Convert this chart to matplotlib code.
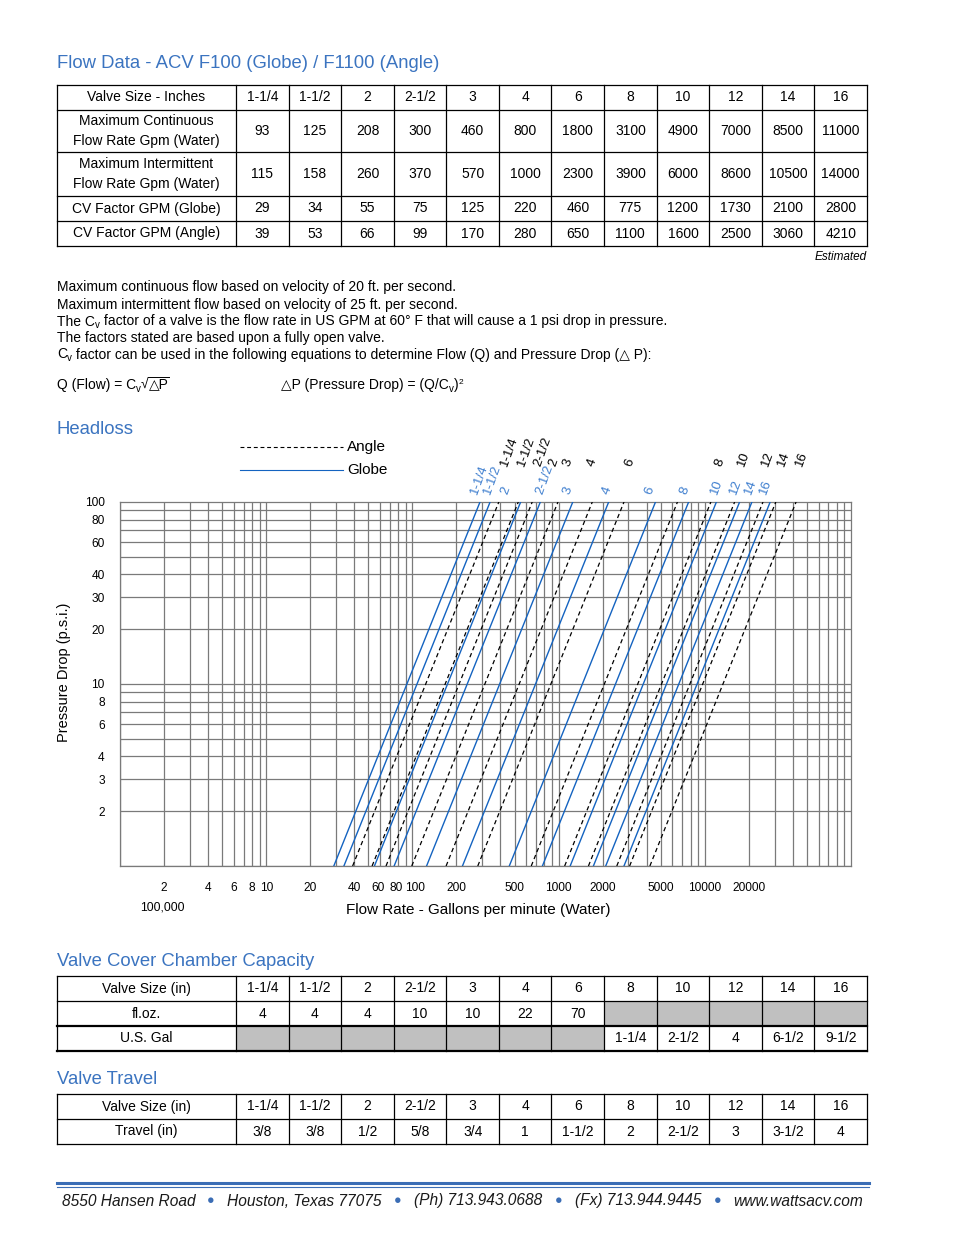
#----Modules----#
import numpy as np
import matplotlib
matplotlib.use('Agg')
import matplotlib.pyplot as plt
import matplotlib.transforms as mtransforms
from matplotlib.lines import Line2D
from matplotlib.patches import Rectangle

plt.rcParams['font.family'] = ['Liberation Sans', 'DejaVu Sans']

#----Data----#
sizes = ["1-1/4", "1-1/2", "2", "2-1/2", "3", "4", "6", "8", "10", "12", "14", "16"]
max_continuous = [93, 125, 208, 300, 460, 800, 1800, 3100, 4900, 7000, 8500, 11000]
max_intermittent = [115, 158, 260, 370, 570, 1000, 2300, 3900, 6000, 8600, 10500, 14000]
cv_globe = [29, 34, 55, 75, 125, 220, 460, 775, 1200, 1730, 2100, 2800]
cv_angle = [39, 53, 66, 99, 170, 280, 650, 1100, 1600, 2500, 3060, 4210]
cover_floz = ["4", "4", "4", "10", "10", "22", "70", "", "", "", "", ""]
cover_gal = ["", "", "", "", "", "", "", "1-1/4", "2-1/2", "4", "6-1/2", "9-1/2"]
travel = ["3/8", "3/8", "1/2", "5/8", "3/4", "1", "1-1/2", "2", "2-1/2", "3", "3-1/2", "4"]

pressure_ticks = [2, 3, 4, 6, 8, 10, 20, 30, 40, 60, 80, 100]
flow_ticks = [2, 4, 6, 8, 10, 20, 40, 60, 80, 100, 200, 500, 1000, 2000, 5000, 10000, 20000]

notes = ["Maximum continuous flow based on velocity of 20 ft. per second.",
         "Maximum intermittent flow based on velocity of 25 ft. per second."]

#----Style----#
TITLE_BLUE = '#3b74c0'
LINE_BLUE = '#1463c0'
LABEL_BLUE = '#3f7fcf'
GRID = '#7a7a7a'
W, H = 954, 1235

fig = plt.figure(figsize=(W / 100, H / 100), dpi=100)
renderer = fig.canvas.get_renderer()


def fx(x):
    return x / W


def fy(y):
    return 1 - y / H


def text(x, y, s, **kw):
    return fig.text(fx(x), fy(y), s, **kw)


def line(x0, x1, y0, y1, **kw):
    kw.setdefault('color', 'black')
    kw.setdefault('lw', 0.8)
    fig.add_artist(Line2D([fx(x0), fx(x1)], [fy(y0), fy(y1)], **kw))


def run(x, y, pieces, size=10, **kw):
    # pieces of text placed one after another on a baseline: (text, dy, scale)
    for s, dy, sc in pieces:
        t = text(x, y + dy, s, fontsize=size * sc, va='baseline', **kw)
        x += t.get_window_extent(renderer).width
    return x


col_edges = [57, 236] + list(np.linspace(236, 867, 13)[1:])


def draw_table(rows_y, cells, shaded=(), thick_rows=()):
    for r, c in shaded:
        x0, x1 = col_edges[c], col_edges[c + 1]
        fig.add_artist(Rectangle((fx(x0), fy(rows_y[r + 1])), fx(x1) - fx(x0),
                                 fy(rows_y[r]) - fy(rows_y[r + 1]),
                                 facecolor='#c0c0c0', edgecolor='none'))
    for i, y in enumerate(rows_y):
        line(col_edges[0], col_edges[-1], y, y, lw=1.6 if i in thick_rows else 0.9)
    for x in col_edges:
        line(x, x, rows_y[0], rows_y[-1], lw=0.9)
    for r, row in enumerate(cells):
        yc = (rows_y[r] + rows_y[r + 1]) / 2
        for c, s in enumerate(row):
            xc = (col_edges[c] + col_edges[c + 1]) / 2
            text(xc, yc, s, ha='center', va='center', fontsize=10, linespacing=1.55)


#----Flow data table----#
text(57, 63, "Flow Data - ACV F100 (Globe) / F1100 (Angle)", fontsize=13.3,
     color=TITLE_BLUE, va='center')
flow_cells = [
    ["Valve Size - Inches"] + sizes,
    ["Maximum Continuous\nFlow Rate Gpm (Water)"] + [str(v) for v in max_continuous],
    ["Maximum Intermittent\nFlow Rate Gpm (Water)"] + [str(v) for v in max_intermittent],
    ["CV Factor GPM (Globe)"] + [str(v) for v in cv_globe],
    ["CV Factor GPM (Angle)"] + [str(v) for v in cv_angle],
]
draw_table([84.5, 109.5, 152, 196, 221, 246], flow_cells)
text(867, 257, "Estimated", ha='right', va='center', fontsize=8.5, style='italic')

#----Notes----#
for i, s in enumerate(notes):
    text(57, 291.5 + i * 17, s, fontsize=10, va='baseline')
run(57, 325.5, [("The C", 0, 1), ("v", 3, 0.7),
                (" factor of a valve is the flow rate in US GPM at 60° F that will cause a 1 psi drop in pressure.", 0, 1)])
text(57, 342, "The factors stated are based upon a fully open valve.", fontsize=10, va='baseline')
run(57, 358.5, [("C", 0, 1), ("v", 3, 0.7),
                (" factor can be used in the following equations to determine Flow (Q) and Pressure Drop (△ P):", 0, 1)])
xe = run(57, 388.5, [("Q (Flow) = C", 0, 1), ("v", 3, 0.7), ("√", 0, 1)])
xe2 = run(xe, 388.5, [("△P", 0, 1)])
line(xe - 1, xe2 + 1, 377, 377, lw=0.7)
run(281, 388.5, [("△P (Pressure Drop) = (Q/C", 0, 1), ("v", 3, 0.7), (")", 0, 1), ("2", -5, 0.6)])

#----Headloss chart----#
text(57, 430, "Headloss", fontsize=13.3, color=TITLE_BLUE, va='center')

ax = fig.add_axes([fx(120), fy(866), fx(851) - fx(120), fy(502) - fy(866)])
ax.set_xscale('log')
ax.set_yscale('log')
ax.set_xlim(1, 100000)
ax.set_ylim(1, 100)

for k in range(5):
    for m in range(1, 10):
        ax.axvline(m * 10 ** k, color=GRID, lw=0.9, zorder=0)
for k in range(2):
    for m in range(1, 10):
        ax.axhline(m * 10 ** k, color=GRID, lw=0.9, zorder=0)

dp = np.array([1.0, 100.0])
for cv in cv_globe:
    ax.plot(cv * np.sqrt(dp), dp, color=LINE_BLUE, lw=1.0, zorder=3)
for cv in cv_angle:
    ax.plot(cv * np.sqrt(dp), dp, color='black', lw=0.9, ls=(0, (3.5, 2.5)), zorder=3)

ax.set_xticks(flow_ticks, labels=[str(v) for v in flow_ticks])
ax.set_yticks(pressure_ticks, labels=[str(v) for v in pressure_ticks])
ax.xaxis.set_minor_locator(plt.NullLocator())
ax.yaxis.set_minor_locator(plt.NullLocator())
ax.tick_params(axis='x', length=0, pad=11.5, labelsize=8.6)
ax.tick_params(axis='y', length=0, pad=11, labelsize=8.6)
for sp in ax.spines.values():
    sp.set_color(GRID)
    sp.set_linewidth(0.9)

# small nudges so 60 / 80 / 100 don't run together
nudge = {60: -2, 80: -2, 100: 3}
for lab, v in zip(ax.get_xticklabels(), flow_ticks):
    if v in nudge:
        off = mtransforms.ScaledTranslation(nudge[v] / 100, 0, fig.dpi_scale_trans)
        lab.set_transform(lab.get_transform() + off)

text(162, 907, "100,000", ha='center', va='center', fontsize=8.8)
text(478, 910, "Flow Rate - Gallons per minute (Water)", ha='center', va='center', fontsize=11)
text(64, 672, "Pressure Drop (p.s.i.)", ha='center', va='center', fontsize=10.5, rotation=90)

# legend
line(240, 343, 447, 447, lw=0.8, ls=(0, (3.5, 2.5)))
text(347, 447, "Angle", va='center', fontsize=11)
line(240, 343, 470, 470, lw=0.8, color=LINE_BLUE)
text(347, 470, "Globe", va='center', fontsize=11)

# size labels over the line ends
angle_label_x = [507, 524, 555, 540, 569, 594, 631, 721, 744, 768, 784, 802]
globe_label_x = [477, 490, 507, 542, 569, 609, 651, 686, 717, 736, 751, 766]
for s, x in zip(sizes, angle_label_x):
    text(x, 467, s, rotation=70, rotation_mode='anchor', ha='left', va='baseline',
         fontsize=9.5, color='black')
for s, x in zip(sizes, globe_label_x):
    text(x, 495, s, rotation=70, rotation_mode='anchor', ha='left', va='baseline',
         fontsize=9.5, color=LABEL_BLUE)

#----Valve cover chamber capacity----#
text(57, 962, "Valve Cover Chamber Capacity", fontsize=13.3, color=TITLE_BLUE, va='center')
cover_cells = [["Valve Size (in)"] + sizes, ["fl.oz."] + cover_floz, ["U.S. Gal"] + cover_gal]
shaded = [(1, c + 1) for c, v in enumerate(cover_floz) if v == ""] + \
         [(2, c + 1) for c, v in enumerate(cover_gal) if v == ""]
draw_table([976, 1001, 1026, 1051], cover_cells, shaded=shaded, thick_rows=(2, 3))

#----Valve travel----#
text(57, 1080, "Valve Travel", fontsize=13.3, color=TITLE_BLUE, va='center')
travel_cells = [["Valve Size (in)"] + sizes, ["Travel (in)"] + travel]
draw_table([1094, 1119, 1144], travel_cells)

#----Footer----#
line(57, 869, 1183, 1183, lw=2.2, color='#3b6db5')
line(57, 869, 1187, 1187, lw=0.8, color='#3b6db5')
footer = [(62, "8550 Hansen Road"), (227, "Houston, Texas 77075"),
          (414, "(Ph) 713.943.0688"), (575, "(Fx) 713.944.9445"), (733, "www.wattsacv.com")]
for x, s in footer:
    text(x, 1201, s, va='center', fontsize=11.2, style='italic', color='#1a1a1a')
for x in [211, 398, 559, 718]:
    text(x, 1201, "●", va='center', ha='center', fontsize=9, color='#3b6db5')

fig.savefig('out.png', dpi=100)
